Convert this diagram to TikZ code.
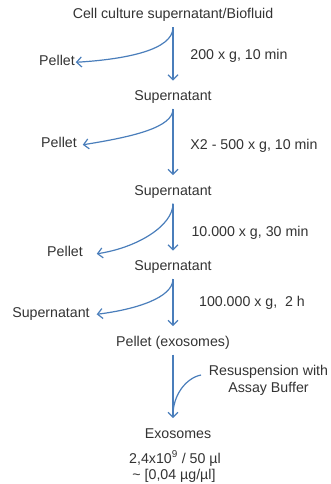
\documentclass[tikz,border=0pt]{standalone}
\usepackage{fontspec}
\setmainfont{Liberation Sans}
\usetikzlibrary{arrows.meta,calc}
\definecolor{txt}{HTML}{333333}
\definecolor{arrblue}{HTML}{4A7EBB}
\tikzset{
  lbl/.style={font=\fontsize{14.2}{17}\selectfont, text=txt, inner sep=0pt, outer sep=0pt,
              anchor=base, text height=10.4pt, text depth=3pt},
  arr/.style={draw=arrblue, line width=1.2pt, -{Straight Barb[length=5pt,width=10pt]}},
  vline/.style={arr, shorten <=5.5pt, shorten >=9.5pt},
  cline/.style={arr, shorten <=5.5pt},
  plain/.style={draw=arrblue, line width=1.2pt}
}
\begin{document}
\begin{tikzpicture}[x=1pt,y=-1pt]
\useasboundingbox (0,0) rectangle (330,484);
\node[lbl] (cell) at (173,19) {Cell culture supernatant/Biofluid};
\node[lbl] (p1) at (57,66) {Pellet};
\node[lbl] (c1) at (239,59.5) {200 x g, 10 min};
\node[lbl] (s1) at (173,100.5) {Supernatant};
\node[lbl] (p2) at (59,147) {Pellet};
\node[lbl] (c2) at (254,149.5) {X2 - 500 x g, 10 min};
\node[lbl] (s2) at (173,195) {Supernatant};
\node[lbl] (p3) at (65,256.5) {Pellet};
\node[lbl] (c3) at (250,236) {10.000 x g, 30 min};
\node[lbl] (s3) at (173,270.5) {Supernatant};
\node[lbl] (s4) at (51,317) {Supernatant};
\node[lbl] (c4) at (252,306) {100.000 x g,\ \ 2 h};
\node[lbl] (pe) at (173,346) {Pellet (exosomes)};
\node[font=\fontsize{14.2}{17}\selectfont, text=txt, inner sep=0pt, anchor=base, align=center] (res) at (268.5,392) {Resuspension with\\Assay Buffer};
\node[lbl] (ex) at (178,438) {Exosomes};
\node[lbl] (q1) at (175,463) {2,4x10\textsuperscript{9} / 50 µl};
\node[lbl] (q2) at (174,479) {\textasciitilde\ [0,04 µg/µl]};

\draw[vline] (cell.south) -- (s1.north);
\draw[vline] (s1.south) -- (s2.north);
\draw[vline] (s2.south) -- (s3.north);
\draw[vline] (s3.south) -- (s3.south |- pe.north);
\draw[vline] (pe.south) -- (pe.south |- ex.north);

\draw[cline] (cell.south) .. controls +(0,28) and +(50,-3) .. ($(p1.east)+(1,0)$);
\draw[cline] (s1.south) .. controls +(0,24) and +(50,-8) .. ($(p2.east)+(6,1.5)$);
\draw[cline] (s2.south) .. controls +(0,28) and +(40,-6) .. ($(p3.east)+(14,1)$);
\draw[cline] (s3.south) .. controls +(0,24) and +(40,-5) .. ($(s4.east)+(7,1)$);

\coordinate (rs) at (201,375);
\coordinate (mj) at (pe.south |- 0,415);
\draw[plain] (rs) .. controls +(-15,3) and +(0,-20) .. (mj);
\end{tikzpicture}
\end{document}
